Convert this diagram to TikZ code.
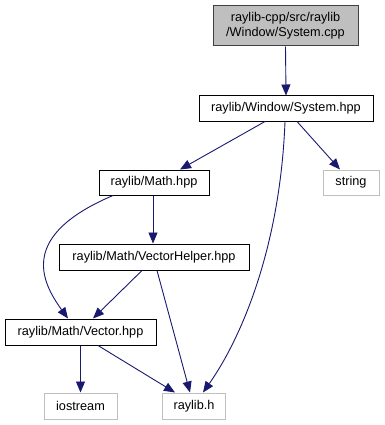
\documentclass[tikz,border=0pt]{standalone}
\usepackage{fontspec}
\setmainfont{Liberation Sans}
\usetikzlibrary{arrows.meta}
\definecolor{edgeblue}{HTML}{191970}
\definecolor{rootfill}{HTML}{BFBFBF}
\definecolor{rootdraw}{HTML}{404040}
\definecolor{extdraw}{HTML}{BFBFBF}
\tikzset{
  file/.style={draw=black, line width=1pt, fill=white, inner sep=0pt,
    font=\fontsize{12.7}{15}\selectfont, align=center},
  rootfile/.style={file, draw=rootdraw, fill=rootfill},
  extfile/.style={file, draw=extdraw},
  dep/.style={draw=edgeblue, line width=0.9pt,
    -{Triangle[length=11pt,width=9pt]}, color=edgeblue},
}
\begin{document}
\begin{tikzpicture}[x=1pt,y=-1pt]
  \useasboundingbox (0,0) rectangle (384,425);

  % files
  \node[rootfile, minimum width=145pt, minimum height=40pt] (cpp) at (285.5,26)
    {raylib-cpp/src/raylib\\/Window/System.cpp};
  \node[file, minimum width=174pt, minimum height=25pt] (sys) at (286,108.5)
    {raylib/Window/System.hpp};
  \node[file, minimum width=110pt, minimum height=25pt] (math) at (154,182.5)
    {raylib/Math.hpp};
  \node[extfile, minimum width=56pt, minimum height=25pt] (str) at (351,182.5)
    {string};
  \node[file, minimum width=190pt, minimum height=26pt] (vh) at (154,257)
    {raylib/Math/VectorHelper.hpp};
  \node[file, minimum width=151pt, minimum height=26pt] (vec) at (80.5,332)
    {raylib/Math/Vector.hpp};
  \node[extfile, minimum width=73pt, minimum height=26pt] (ios) at (80.5,406)
    {iostream};
  \node[extfile, minimum width=63pt, minimum height=26pt] (rh) at (194,406)
    {raylib.h};

  % include edges
  \draw[dep] (cpp.south) -- (sys.north);
  \draw[dep] ([xshift=-21pt]sys.south) -- ([xshift=26pt]math.north);
  \draw[dep] ([xshift=11pt]sys.south) -- ([xshift=-11pt]str.north);
  \draw[dep] ([xshift=-1pt]sys.south) .. controls (280,250) and (240,340) .. ([xshift=9pt]rh.north);
  \draw[dep] ([xshift=-1pt]math.south) -- ([xshift=-1pt]vh.north);
  \draw[dep] ([xshift=-41pt]math.south) .. controls (20,235) and (40,280) .. ([xshift=-12.5pt]vec.north);
  \draw[dep] ([xshift=-12pt]vh.south) -- ([xshift=12.5pt]vec.north);
  \draw[dep] ([xshift=3pt]vh.south) -- ([xshift=-4pt]rh.north);
  \draw[dep] (vec.south) -- (ios.north);
  \draw[dep] ([xshift=17.5pt]vec.south) -- ([xshift=-19pt]rh.north);
\end{tikzpicture}
\end{document}
